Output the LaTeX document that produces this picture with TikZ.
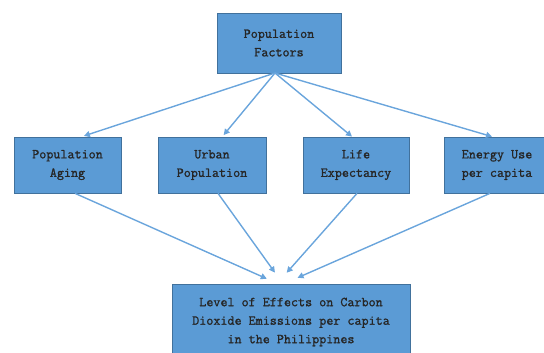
\documentclass[tikz,border=0pt]{standalone}
\usepackage{fontspec}
\newfontfamily\boxfont{Latin Modern Mono}[FakeBold=1.2]
\usepackage{xcolor}
\usepackage{tikz}
\usetikzlibrary{arrows.meta}
\definecolor{boxblue}{HTML}{5B9BD5}
\definecolor{boxedge}{HTML}{41719C}
\definecolor{linkblue}{HTML}{6AA5DC}
\tikzset{factorbox/.style={rectangle,draw=boxedge,fill=boxblue,line width=0.8pt,align=center,
  font=\fontsize{13.7}{18.5}\selectfont\boxfont,text=black!85,inner sep=0pt},
  link/.style={-{Triangle[length=6pt,width=6pt]},draw=linkblue,line width=1.4pt}}

\begin{document}
\begin{tikzpicture}[x=1pt,y=-1pt]
\useasboundingbox(0,0)rectangle(544,353);
\node[factorbox,minimum width=124pt,minimum height=60pt](factors)at(279,43){Population\\Factors};
\node[factorbox,minimum width=107pt,minimum height=56pt](aging)at(67.5,165){Population\\Aging};
\node[factorbox,minimum width=108pt,minimum height=56pt](urban)at(212,165){Urban\\Population};
\node[factorbox,minimum width=106pt,minimum height=56pt](life)at(356,165){Life\\Expectancy};
\node[factorbox,minimum width=106pt,minimum height=56pt](energy)at(497,165){Energy Use\\per capita};
\node[factorbox,minimum width=238pt,minimum height=76pt](level)at(291,322){Level of Effects on Carbon\\Dioxide Emissions per capita\\in the Philippines};
\coordinate(src)at(275,73);
\draw[link,shorten >=2pt](src)--(aging.63);
\draw[link,shorten >=2pt](src)--(urban.70);
\draw[link](src)--(life.98);
\draw[link](src)--(energy.100);
\draw[link,shorten >=12pt](aging.-75)--(level.109);
\draw[link,shorten >=13.5pt](urban.-78)--(level.102);
\draw[link,shorten >=14.5pt](life.-88)--(level.110);
\draw[link,shorten >=14.5pt](energy.-104)--(level.100);
\end{tikzpicture}
\end{document}
